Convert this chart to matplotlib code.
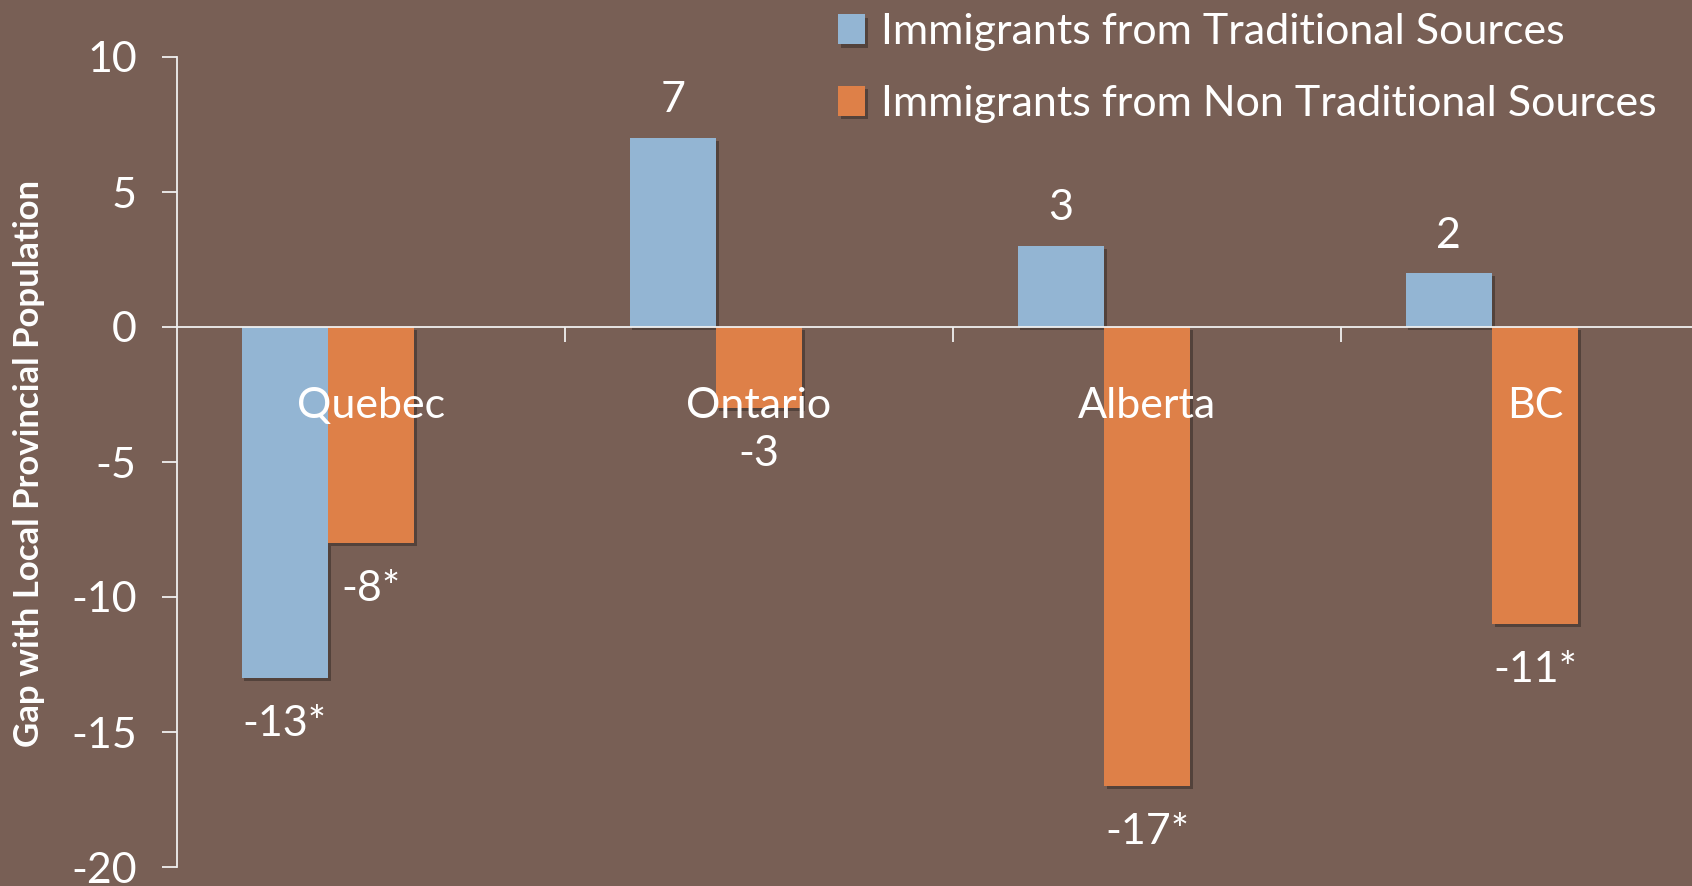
import matplotlib
matplotlib.use("Agg")
import matplotlib.pyplot as plt
import matplotlib.patheffects as pe
import numpy as np

categories = ["Quebec", "Ontario", "Alberta", "BC"]
traditional = [-13, 7, 3, 2]
non_traditional = [-8, -3, -17, -11]
trad_labels = ["-13*", "7", "3", "2"]
nontrad_labels = ["-8*", "-3", "-17*", "-11*"]
series_names = ["Immigrants from Traditional Sources",
                "Immigrants from Non Traditional Sources"]
yticks = [10, 5, 0, -5, -10, -15, -20]

BG = "#785F55"
BLUE = "#93B5D3"
ORANGE = "#DE8048"
FG = "#FFFFFF"
AX = "#F0F0F0"
FS = 31

plt.rcParams['font.family'] = ['Lato', 'DejaVu Sans']

fig = plt.figure(figsize=(16.92, 8.86), dpi=100, facecolor=BG)
W, H = 1692, 886
left_px, right_px, top_px, bot_px = 177, 177 + 1552, 57, 867
ax = fig.add_axes([left_px / W, 1 - bot_px / H, (right_px - left_px) / W, (bot_px - top_px) / H])
ax.set_facecolor(BG)
ax.set_axisbelow(False)

w = 1 / 4.5
centers = np.arange(len(categories)) + 0.5
shadow = [pe.SimplePatchShadow(offset=(2, -2.5), shadow_rgbFace='black', alpha=0.3), pe.Normal()]
b1 = ax.bar(centers - w, traditional, width=w, color=BLUE, label=series_names[0], zorder=2)
b2 = ax.bar(centers, non_traditional, width=w, color=ORANGE, label=series_names[1], zorder=2)
for b in list(b1) + list(b2):
    b.set_path_effects(shadow)

for xs, vals, labs in [(centers - w, traditional, trad_labels), (centers, non_traditional, nontrad_labels)]:
    for x, v, l in zip(xs, vals, labs):
        off = 27 if v > 0 else -33
        ax.annotate(l, (x, v), xytext=(0, off), textcoords='offset points',
                    ha='center', va='center', color=FG, fontsize=FS, zorder=5)

ax.set_xlim(0, 4)
ax.set_ylim(-20, 10)
ax.set_yticks(yticks)
ax.set_yticklabels([str(t) for t in yticks])

for s in ['top', 'right']:
    ax.spines[s].set_visible(False)
ax.spines['bottom'].set_position(('data', 0))
ax.spines['bottom'].set_color(AX)
ax.spines['left'].set_color(AX)
ax.spines['bottom'].set_linewidth(1.3)
ax.spines['left'].set_linewidth(1.3)
ax.spines['bottom'].set_zorder(3)

ax.tick_params(axis='y', colors=AX, labelcolor=FG, labelsize=FS, length=11, width=1.3, pad=18, direction='out')
ax.set_xticks(centers)
ax.set_xticklabels(categories)
ax.set_xticks([1, 2, 3], minor=True)
ax.tick_params(axis='x', which='major', length=0, labelsize=FS, labelcolor=FG, pad=43)
ax.tick_params(axis='x', which='minor', length=11, width=1.3, colors=AX, direction='out')

fig.text(29 / W, 1 - 463 / H, "Gap with Local Provincial Population", rotation=90,
         ha='center', va='center', color=FG, fontsize=25, fontweight='bold')

leg = fig.legend(handles=[b1, b2], loc='upper left', bbox_to_anchor=(821 / W, 1 + 4 / H),
                 frameon=False, fontsize=FS, handlelength=0.62, handleheight=0.7,
                 handletextpad=0.37, labelspacing=0.78, labelcolor=FG, borderaxespad=0)

fig.savefig("out.png", dpi=100, facecolor=BG)
